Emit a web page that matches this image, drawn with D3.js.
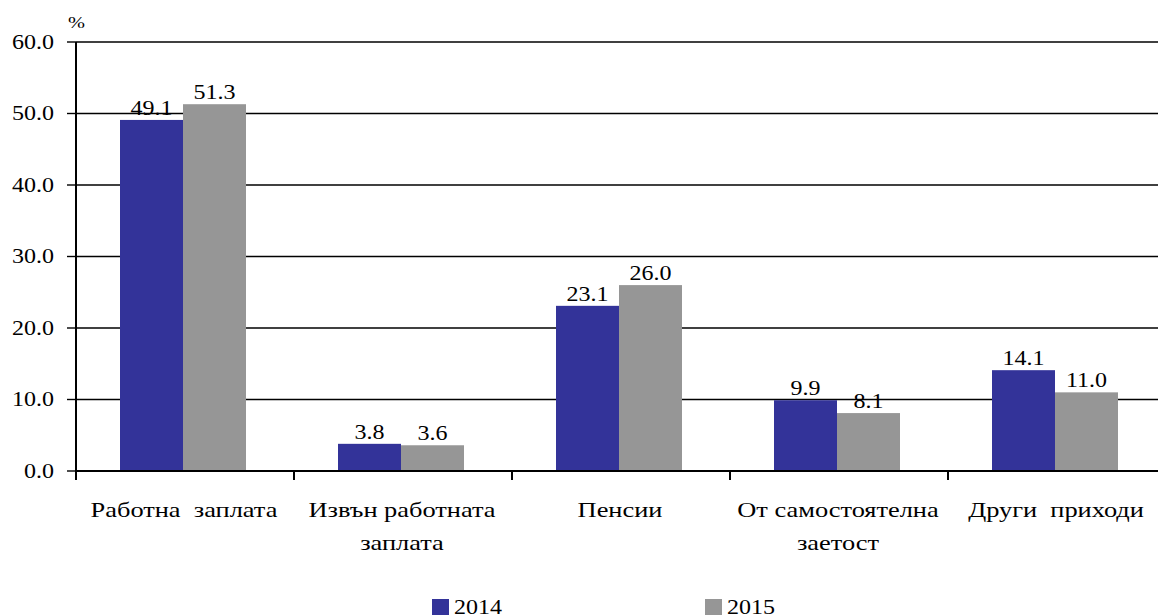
<!DOCTYPE html>
<html>
<head>
<meta charset="utf-8">
<script src="https://cdn.jsdelivr.net/npm/d3@7"></script>
<style>
  body { margin: 0; background: #fff; }
  svg { display: block; }
  text { font-family: "Liberation Serif", "DejaVu Serif", serif; fill: #000; white-space: pre; }
</style>
</head>
<body>
<svg width="1158" height="616"></svg>
<script>
var categories = [
  ["Работна  заплата"],
  ["Извън работната", "заплата"],
  ["Пенсии"],
  ["От самостоятелна", "заетост"],
  ["Други  приходи"]
];
var years = ["2014", "2015"];
var values2014 = [49.1, 3.8, 23.1, 9.9, 14.1];
var values2015 = [51.3, 3.6, 26.0, 8.1, 11.0];
var yTicks = [0, 10, 20, 30, 40, 50, 60];
var colors = { "2014": "#333399", "2015": "#969696" };

var svg = d3.select("svg"),
  plotLeft = 76, plotBottom = 471, plotTop = 42, bandW = 218,
  stretch = 1.2; // text in the original is a bit wide

var data = categories.map((c, i) => ({ key: i, label: c, "2014": values2014[i], "2015": values2015[i] }));

var x = d3.scaleBand().domain(d3.range(categories.length)).range([plotLeft, plotLeft + bandW * categories.length]),
  xSub = d3.scaleBand().domain(years).range([44, 170]),
  y = d3.scaleLinear().domain([0, 60]).range([plotBottom, plotTop]);

function label(sel, tx, ty, size, anchor, txt) {
  return sel.append("text")
    .attr("transform", `translate(${tx},${ty}) scale(${stretch},1)`)
    .attr("text-anchor", anchor)
    .style("font-size", size + "px")
    .text(txt);
}

// gridlines
svg.append("g").selectAll("line")
  .data(yTicks.filter(d => d > 0))
  .enter().append("line")
  .attr("x1", plotLeft).attr("x2", 1158)
  .attr("y1", d => y(d)).attr("y2", d => y(d))
  .attr("stroke", "#000").attr("stroke-width", 1.4);

// bars
var grp = svg.append("g").selectAll("g")
  .data(data)
  .enter().append("g")
  .attr("transform", d => `translate(${x(d.key)},0)`);

grp.selectAll("rect")
  .data(d => years.map(k => ({ k: k, v: d[k] })))
  .enter().append("rect")
  .attr("x", d => xSub(d.k))
  .attr("width", xSub.bandwidth())
  .attr("y", d => y(d.v))
  .attr("height", d => y(0) - y(d.v))
  .attr("fill", d => colors[d.k]);

grp.each(function(d) {
  var g = d3.select(this);
  years.forEach(k => {
    label(g, xSub(k) + xSub.bandwidth() / 2, y(d[k]) - 5, 20, "middle", d[k].toFixed(1));
  });
});

// x axis
svg.append("line")
  .attr("x1", plotLeft).attr("x2", 1158)
  .attr("y1", plotBottom).attr("y2", plotBottom)
  .attr("stroke", "#000").attr("stroke-width", 2);
svg.append("g").selectAll("line")
  .data(d3.range(categories.length))
  .enter().append("line")
  .attr("x1", d => x(d)).attr("x2", d => x(d))
  .attr("y1", plotBottom).attr("y2", plotBottom + 9)
  .attr("stroke", "#000").attr("stroke-width", 2);

data.forEach(d => {
  d.label.forEach((t, j) => {
    label(svg, x(d.key) + bandW / 2 - 1, 517 + j * 33, 22, "middle", t);
  });
});

// y axis
svg.append("line")
  .attr("x1", plotLeft).attr("x2", plotLeft)
  .attr("y1", plotTop).attr("y2", plotBottom)
  .attr("stroke", "#000").attr("stroke-width", 2);
svg.append("g").selectAll("line")
  .data(yTicks)
  .enter().append("line")
  .attr("x1", plotLeft - 9).attr("x2", plotLeft)
  .attr("y1", d => y(d)).attr("y2", d => y(d))
  .attr("stroke", "#000").attr("stroke-width", 1.4);
yTicks.forEach(t => label(svg, 54, y(t) + 6.5, 20, "end", t.toFixed(1)));

label(svg, 68, 28, 17, "start", "%");

// legend
var legX = [432, 705];
years.forEach((k, i) => {
  svg.append("rect")
    .attr("x", legX[i]).attr("y", 599)
    .attr("width", 17).attr("height", 16)
    .attr("fill", colors[k]);
  label(svg, legX[i] + 22, 614, 20, "start", k);
});
</script>
</body>
</html>
